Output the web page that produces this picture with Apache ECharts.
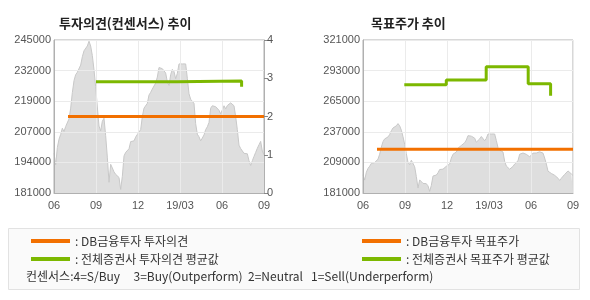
<!DOCTYPE html>
<html><head><meta charset="utf-8">
<script src="https://cdn.jsdelivr.net/npm/echarts/dist/echarts.min.js"></script>
<style>html,body{margin:0;padding:0;background:#fff}#c{width:590px;height:300px}</style>
</head><body><div id="c"></div>
<script>
// x axis: months since 2018-06 (0..15), tick every quarter
const xTickLabels = ['06', '09', '12', '19/03', '06', '09'];
const priceFirstMonth = 0;
const priceLastMonth = 15;
// daily closing price (sampled evenly from 2018-06 to 2019-09)
const price = [
  197700, 192800, 200000, 203500, 205500, 208100, 206700, 208800, 209500, 212000,
  216500, 223000, 228000, 230500, 231500, 232300, 234500, 238000, 240500, 241200,
  242500, 244500, 242500, 238500, 232500, 225500, 217000, 209000, 207000, 211000,
  212300, 205000, 196000, 185500, 193000, 191500, 189800, 188800, 189500, 187500,
  182500, 188000, 196500, 198000, 197400, 199500, 202500, 202500, 202800, 204400,
  205500, 205700, 207500, 213000, 216500, 216800, 218500, 222000, 223100, 224500,
  224500, 227000, 229500, 233500, 234000, 233000, 232500, 231200, 227500, 226000,
  230500, 232700, 231800, 228800, 231000, 235000, 235000, 235000, 235300, 235000,
  229000, 222500, 220200, 220500, 218500, 210000, 205600, 204500, 202800, 204000,
  205300, 207500, 208700, 210500, 216500, 217500, 217600, 217100, 216400, 215600,
  214100, 213800, 217500, 216200, 217600, 216800, 218700, 219100, 217500, 213000,
  207500, 201000, 199600, 198900, 197600, 197200, 197400, 194500, 192500, 194500,
  196300, 198000, 199700, 201200, 202600, 198500, 197000
];
// [month, opinion]
const dbOpinion = [[1, 2], [15, 2]];
const avgOpinion = [[3, 2.91], [8.8, 2.91], [8.8, 2.93], [13.4, 2.93], [13.4, 2.78]];
// [month, target price]
const dbTarget = [[1, 221000], [15, 221000]];
const avgTarget = [[2.95, 280000], [5.95, 280000], [5.95, 284500], [8.8, 284500], [8.8, 296500],
                   [11.8, 296500], [11.8, 281000], [13.4, 281000], [13.4, 270000]];

const ORANGE = '#f27000', GREEN = '#7cb800';
const priceData = price.map((v, i) => [priceFirstMonth + i * (priceLastMonth - priceFirstMonth) / (price.length - 1), v]);

const axisFont = {fontFamily: 'Liberation Sans, Arial, sans-serif', fontSize: 11, color: '#555'};
const grid1 = {left: 54, top: 40, width: 210, height: 153};
const grid2 = {left: 363, top: 40, width: 210, height: 153};
function xAx(gi) {
  return {type: 'value', gridIndex: gi, min: 0, max: 15, interval: 3, z: 3,
    axisLine: {show: true, lineStyle: {color: '#b0b0b0'}}, axisTick: {show: false},
    axisLabel: Object.assign({margin: 7, formatter: v => xTickLabels[Math.round(v / 3)]}, axisFont),
    splitLine: {show: true, lineStyle: {color: '#ebebeb'}}};
}
function yAx(gi, min, max, interval) {
  return {type: 'value', gridIndex: gi, min, max, interval, z: 3,
    axisLine: {show: true, lineStyle: {color: '#b0b0b0'}}, axisTick: {show: false},
    axisLabel: Object.assign({margin: 3, formatter: v => String(Math.round(v / 1000) * 1000)}, axisFont),
    splitLine: {show: true, lineStyle: {color: '#ebebeb'}}};
}
const priceSeries = (xi, yi) => ({type: 'line', xAxisIndex: xi, yAxisIndex: yi, data: priceData, symbol: 'none',
  z: 1, silent: true, lineStyle: {color: '#c8c8c8', width: 1}, areaStyle: {color: '#dedede', opacity: 1}});
const stepSeries = (name, data, color, xi, yi) => ({name, type: 'line', xAxisIndex: xi, yAxisIndex: yi, data,
  symbol: 'none', z: 5, lineStyle: {color, width: 3}, itemStyle: {color}});

const chart = echarts.init(document.getElementById('c'), null, {renderer: 'canvas'});
chart.setOption({
  animation: false,
  title: [
    {text: '투자의견(컨센서스) 추이', left: 54, top: 12, textStyle: {fontFamily: 'Noto Sans CJK KR', fontSize: 13, fontWeight: 'bold', color: '#222'}},
    {text: '목표주가 추이', left: 366, top: 12, textStyle: {fontFamily: 'Noto Sans CJK KR', fontSize: 13, fontWeight: 'bold', color: '#222'}}
  ],
  grid: [Object.assign({show: true, borderColor: '#b0b0b0', borderWidth: 1, backgroundColor: 'transparent'}, grid1),
         Object.assign({show: true, borderColor: '#b0b0b0', borderWidth: 1, backgroundColor: 'transparent'}, grid2)],
  xAxis: [xAx(0), xAx(1)],
  yAxis: [
    yAx(0, 181000, 245000, 12800),
    {type: 'value', gridIndex: 0, position: 'right', min: 0, max: 4, interval: 1, z: 3,
      axisLine: {show: true, lineStyle: {color: '#b0b0b0'}},
      axisTick: {show: true, length: 4, lineStyle: {color: '#888'}},
      axisLabel: Object.assign({margin: 3}, axisFont), splitLine: {show: false}},
    yAx(1, 181000, 321000, 28000)
  ],
  legend: [
    {orient: 'vertical', left: 26, top: 230, itemWidth: 39, itemHeight: 4, itemGap: 6, icon: 'rect',
      data: ['DB금융투자 투자의견', '전체증권사 투자의견 평균값'], formatter: n => ': ' + n,
      textStyle: {fontFamily: 'Noto Sans CJK KR', fontSize: 12, color: '#333', lineHeight: 12}},
    {orient: 'vertical', left: 357, top: 230, itemWidth: 39, itemHeight: 4, itemGap: 6, icon: 'rect',
      data: ['DB금융투자 목표주가', '전체증권사 목표주가 평균값'], formatter: n => ': ' + n,
      textStyle: {fontFamily: 'Noto Sans CJK KR', fontSize: 12, color: '#333', lineHeight: 12}}
  ],
  graphic: [
    {type: 'rect', left: 8, top: 228, z: -10, shape: {width: 571, height: 61},
      style: {fill: '#fafafa', stroke: '#e2e2e2', lineWidth: 1}},
    {type: 'text', left: 26, top: 270, z: 10,
      style: {text: '컨센서스:4=S/Buy     3=Buy(Outperform)  2=Neutral   1=Sell(Underperform)',
        fontFamily: 'Noto Sans CJK KR', fontSize: 12, fill: '#333'}}
  ],
  series: [
    priceSeries(0, 0),
    stepSeries('DB금융투자 투자의견', dbOpinion, ORANGE, 0, 1),
    stepSeries('전체증권사 투자의견 평균값', avgOpinion, GREEN, 0, 1),
    priceSeries(1, 2),
    stepSeries('DB금융투자 목표주가', dbTarget, ORANGE, 1, 2),
    stepSeries('전체증권사 목표주가 평균값', avgTarget, GREEN, 1, 2)
  ]
});
</script></body></html>
